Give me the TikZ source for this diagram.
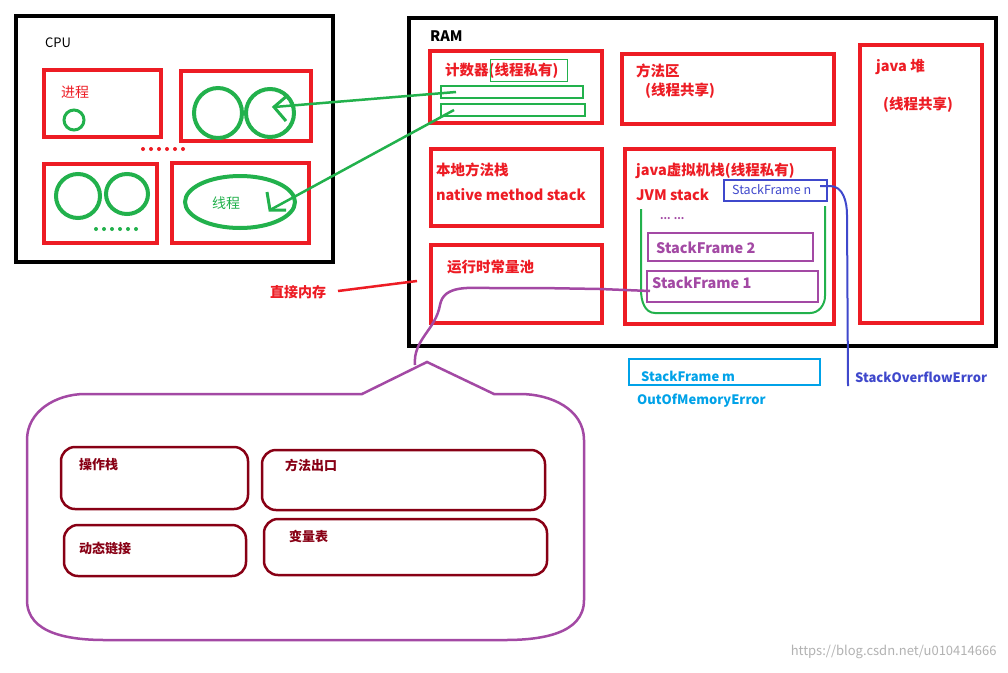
\documentclass[tikz,border=0pt]{standalone}
\usepackage{fontspec}
\setmainfont{Noto Sans CJK SC}
\usetikzlibrary{calc}
\definecolor{rd}{HTML}{ED1C24}
\definecolor{gn}{HTML}{22B14C}
\definecolor{pu}{HTML}{A349A4}
\definecolor{bl}{HTML}{3F48CC}
\definecolor{cy}{HTML}{00A2E8}
\definecolor{dr}{HTML}{880015}
\tikzset{
 blk/.style={draw=black,line width=4pt},
 rbox/.style={draw=rd,line width=3.5pt},
 gline/.style={draw=gn,line width=2pt},
 pbox/.style={draw=pu,line width=2.5pt},
 lbl/.style={anchor=west,inner sep=0pt,font=\bfseries\fontsize{14.5}{14.5}\selectfont},
 circ/.style={draw=gn,line width=4pt},
 ibox/.style={draw=dr,line width=2.5pt,rounded corners=14pt},
}
\begin{document}
\begin{tikzpicture}[x=1pt,y=-1pt]
\useasboundingbox[fill=white] (0,0) rectangle (1008,672);
% CPU
\draw[blk] (16,16) rectangle (333,262);
\node[lbl,font=\fontsize{13}{13}\selectfont] (cpu) at (45,43) {CPU};
\draw[rbox] (44,70) rectangle (161,137);
\node[lbl,text=rd,font=\fontsize{14}{14}\selectfont] (jc) at (61,92) {进程};
\draw[circ,line width=3pt] (74,120) ellipse (10 and 10);
\draw[rbox] (181,71) rectangle (311,141);
\draw[circ] (218,113) ellipse (24 and 25);
\draw[circ] (270,113) ellipse (24 and 24);
\foreach \x in {143,151,...,186} \fill[rd] (\x,149) circle (2);
\draw[rbox] (44,164) rectangle (157,243);
\draw[circ] (78,196) ellipse (22 and 22);
\draw[circ] (127,194) ellipse (21 and 20);
\foreach \x in {96,104,...,137} \fill[gn] (\x,229) circle (2);
\draw[rbox] (172,163) rectangle (309,243);
\draw[circ] (240,202) ellipse (55 and 26);
\node[lbl,text=gn,font=\fontsize{14}{14}\selectfont] (xc) at (212,203) {线程};
% RAM
\draw[blk] (409,18) rectangle (996,346);
\node[lbl] (ram) at (430,36) {RAM};
\draw[rbox] (430,51) rectangle (602,123);
\node[lbl,text=rd] (jsq) at (445,71) {计数器(线程私有)};
\draw[draw=gn,line width=1pt] (490,59) rectangle (567,81);
\draw[gline] (441,86) rectangle (583,98);
\draw[gline] (441,104) rectangle (585,116);
\coordinate (a1s) at (456,92);
\coordinate (a1e) at (274,107);
\coordinate (a2s) at (454,110);
\coordinate (a2e) at (270,210);
\draw[gline,line width=2.5pt] (a1s) -- (a1e);
\draw[gline,line width=3pt] ($(a1e)+(14,-12)$) -- (a1e) -- ($(a1e)+(12,14)$);
\draw[gline,line width=2.5pt] (a2s) -- (a2e);
\draw[gline,line width=3pt] ($(a2e)+(-3,-18)$) -- (a2e) -- ($(a2e)+(16,0)$);
\draw[rbox] (622,54) rectangle (834,124);
\node[lbl,text=rd] (ffq) at (636,71) {方法区};
\node[lbl,text=rd] (gx1) at (645,91) {(线程共享)};
\draw[rbox] (860,45) rectangle (982,323);
\node[lbl,text=rd] (heap) at (876,67) {java 堆};
\node[lbl,text=rd] (gx2) at (883,105) {(线程共享)};
\draw[rbox] (431,149) rectangle (602,226);
\node[lbl,text=rd] (bd) at (436,170) {本地方法栈};
\node[lbl,text=rd] (nms) at (436,195) {native method stack};
\draw[rbox] (431,245) rectangle (602,323);
\node[lbl,text=rd] (yx) at (447,267) {运行时常量池};
\draw[rbox] (625,149) rectangle (834,324);
\node[lbl,text=rd] (jvm1) at (636,171) {java虚拟机栈(线程私有)};
\node[lbl,text=rd] (jvm2) at (636,195) {JVM stack};
\draw[draw=bl,line width=2.5pt] (724,180) rectangle (827,201);
\node[lbl,text=bl,font=\fontsize{12.5}{12.5}\selectfont] (sfn) at (732,190) {StackFrame n};
\draw[gline] (641,209) -- (641,290) to[out=-90,in=180] (655,313) -- (810,313) to[out=0,in=-90] (825,296) -- (825,206);
\node[lbl,text=pu,font=\bfseries\fontsize{10}{10}\selectfont] (dots) at (660,219) {... ...};
\draw[pbox] (648,233) rectangle (813,261);
\node[lbl,text=pu] (sf2) at (656,248) {StackFrame 2};
\draw[pbox] (647,271) rectangle (818,302);
\node[lbl,text=pu] (sf1) at (652,283) {StackFrame 1};
\draw[draw=bl,line width=2pt] (820,186) -- (830,186) to[out=0,in=90] (847,215) -- (848,386);
\draw[draw=cy,line width=2.5pt] (629,359) rectangle (820,385);
\node[lbl,text=cy,font=\bfseries\fontsize{13}{13}\selectfont] (sfm) at (641,376) {StackFrame m};
\node[lbl,text=cy,font=\bfseries\fontsize{13}{13}\selectfont] (oom) at (637,401) {OutOfMemoryError};
\node[lbl,text=bl,font=\bfseries\fontsize{13}{13}\selectfont] (soe) at (855,377) {StackOverflowError};
\node[lbl,text=rd,font=\bfseries\fontsize{14}{14}\selectfont] (zj) at (270,292) {直接内存};
\draw[draw=rd,line width=2.5pt] (338,291) -- (417,281);
% purple callout link
\draw[pbox] (650,291) -- (600,289) -- (540,288) -- (490,288) to[out=180,in=80] (440,305) to[out=-100,in=95] (415,365);
\draw[pbox] (362,394) -- (427,362) -- (494,394) -- (520,394) to[out=0,in=90] (584,440) -- (584,600) to[out=-90,in=0] (505,640) -- (105,640) to[out=180,in=-90] (27,600) -- (27,440) to[out=90,in=180] (85,394) -- cycle;
\draw[ibox] (61,447) rectangle (248,509);
\node[lbl,text=dr,font=\bfseries\fontsize{13}{13}\selectfont] (czz) at (79,465) {操作栈};
\draw[ibox] (262,450) rectangle (545,510);
\node[lbl,text=dr,font=\bfseries\fontsize{13}{13}\selectfont] (ffck) at (285,465) {方法出口};
\draw[ibox] (64,525) rectangle (246,576);
\node[lbl,text=dr,font=\bfseries\fontsize{13}{13}\selectfont] (dtlj) at (79,548) {动态链接};
\draw[ibox] (264,519) rectangle (547,575);
\node[lbl,text=dr,font=\bfseries\fontsize{13}{13}\selectfont] (blb) at (289,536) {变量表};
\node[anchor=east,text=gray!60,font=\fontsize{13}{13}\selectfont] (wm) at (1000,652) {https://blog.csdn.net/u010414666};
\end{tikzpicture}
\end{document}
